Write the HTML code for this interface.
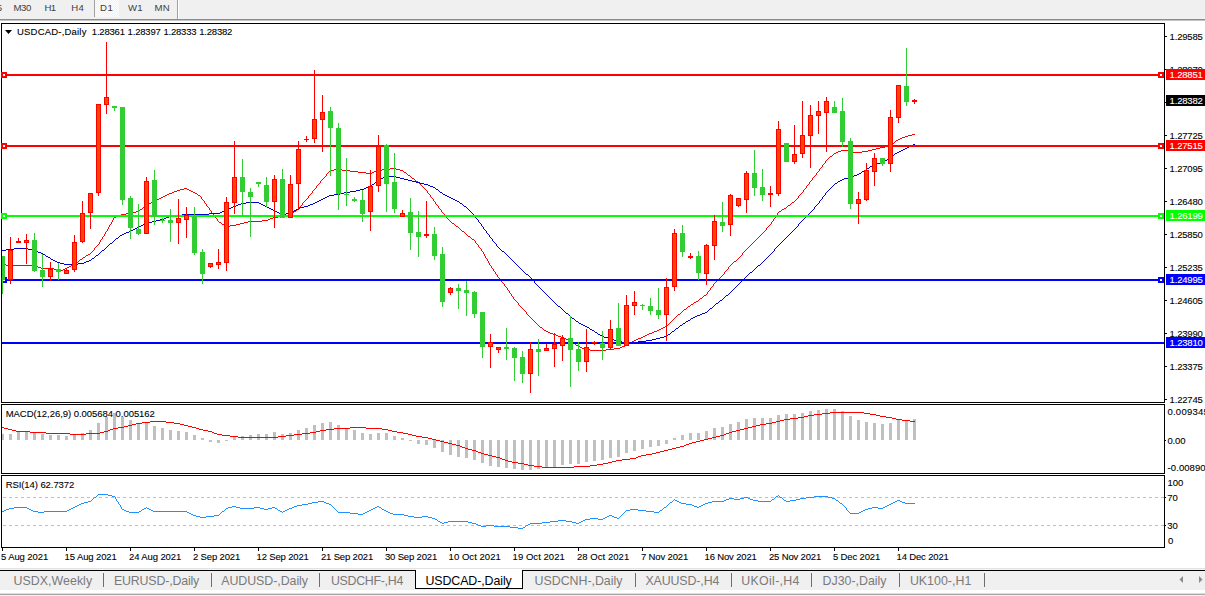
<!DOCTYPE html>
<html><head><meta charset="utf-8"><title>USDCAD-,Daily</title>
<style>html,body{margin:0;padding:0;background:#fff;}body{width:1205px;height:596px;position:relative;overflow:hidden;font-family:"Liberation Sans",sans-serif;}text{font-family:"Liberation Sans",sans-serif;}</style>
</head><body>
<svg width="1205" height="596" viewBox="0 0 1205 596" font-family="Liberation Sans, sans-serif" style="position:absolute;left:0;top:0;display:block"><rect x="0" y="0" width="1205" height="596" fill="#ffffff"/>
<rect x="0" y="0" width="1205" height="19" fill="#f0f0f0"/>
<rect x="0" y="19" width="1205" height="1" fill="#8c8c8c"/>
<rect x="0" y="20" width="1205" height="1" fill="#c4c4c4"/>
<defs><pattern id="hatch" width="2" height="2" patternUnits="userSpaceOnUse"><rect width="2" height="2" fill="#f0f0f0"/><rect width="1" height="1" fill="#ffffff"/><rect x="1" y="1" width="1" height="1" fill="#ffffff"/></pattern></defs>
<rect x="95" y="0" width="24" height="17" fill="url(#hatch)"/>
<rect x="94" y="0" width="1" height="17" fill="#a0a0a0"/>
<rect x="177" y="0" width="1" height="19" fill="#a0a0a0"/>
<rect x="178" y="0" width="1" height="19" fill="#ffffff"/>
<text x="-3.2" y="10.6" font-size="9.6" fill="#404040" stroke="#404040" stroke-width="0" text-anchor="start">5</text>
<text x="13.5" y="10.6" font-size="9.6" fill="#404040" stroke="#404040" stroke-width="0" textLength="17.8" lengthAdjust="spacing" text-anchor="start">M30</text>
<text x="44.4" y="10.6" font-size="9.6" fill="#404040" stroke="#404040" stroke-width="0" textLength="11.8" lengthAdjust="spacing" text-anchor="start">H1</text>
<text x="71.3" y="10.6" font-size="9.6" fill="#404040" stroke="#404040" stroke-width="0" textLength="12.6" lengthAdjust="spacing" text-anchor="start">H4</text>
<text x="100.0" y="10.6" font-size="9.6" fill="#404040" stroke="#404040" stroke-width="0" textLength="12.8" lengthAdjust="spacing" text-anchor="start">D1</text>
<text x="128.0" y="10.6" font-size="9.6" fill="#404040" stroke="#404040" stroke-width="0" textLength="14.6" lengthAdjust="spacing" text-anchor="start">W1</text>
<text x="154.4" y="10.6" font-size="9.6" fill="#404040" stroke="#404040" stroke-width="0" textLength="15.4" lengthAdjust="spacing" text-anchor="start">MN</text>
<rect x="1" y="23" width="1164" height="1" fill="#000"/>
<rect x="1" y="402" width="1164" height="1" fill="#000"/>
<rect x="1" y="23" width="1" height="380" fill="#000"/>
<rect x="1164" y="23" width="1" height="380" fill="#000"/>
<rect x="1" y="404" width="1164" height="1" fill="#000"/>
<rect x="1" y="473" width="1164" height="1" fill="#000"/>
<rect x="1" y="404" width="1" height="70" fill="#000"/>
<rect x="1164" y="404" width="1" height="70" fill="#000"/>
<rect x="1" y="475" width="1164" height="1" fill="#000"/>
<rect x="1" y="547" width="1164" height="1" fill="#000"/>
<rect x="1" y="475" width="1" height="73" fill="#000"/>
<rect x="1164" y="475" width="1" height="73" fill="#000"/>
<g shape-rendering="crispEdges">
</g>
<path d="M912 134.5h3M908 135.5h4M905 136.5h3M902 137.5h3M900 138.5h2M898 139.5h2M896 140.5h2M895 141.5h1M894 142.5h1M892 143.5h2M891 144.5h1M889 145.5h2M885 146.5h4M880 147.5h5M876 148.5h4M872 149.5h4M841 150.5h10M868 150.5h4M838 151.5h3M851 151.5h2M862 151.5h6M836 152.5h2M853 152.5h9M834 153.5h2M833 154.5h1M832 155.5h1M830 156.5h2M829 157.5h1M828 158.5h1M827 159.5h1M826 160.5h1M825 161.5h1M825 162.5h1M824 163.5h1M823 164.5h1M822 165.5h1M822 166.5h1M821 167.5h1M390 168.5h6M820 168.5h1M334 169.5h8M382 169.5h8M396 169.5h4M819 169.5h1M330 170.5h4M342 170.5h8M377 170.5h5M400 170.5h3M819 170.5h1M329 171.5h1M350 171.5h8M374 171.5h3M403 171.5h1M818 171.5h1M328 172.5h1M358 172.5h8M372 172.5h2M404 172.5h2M817 172.5h1M327 173.5h1M366 173.5h6M406 173.5h1M816 173.5h1M326 174.5h1M407 174.5h1M816 174.5h1M326 175.5h1M408 175.5h2M815 175.5h1M325 176.5h1M410 176.5h1M814 176.5h1M324 177.5h1M411 177.5h1M813 177.5h1M323 178.5h1M412 178.5h2M812 178.5h1M322 179.5h1M414 179.5h1M812 179.5h1M321 180.5h1M415 180.5h1M811 180.5h1M320 181.5h1M416 181.5h2M810 181.5h1M320 182.5h1M418 182.5h1M809 182.5h1M319 183.5h1M419 183.5h1M809 183.5h1M318 184.5h1M420 184.5h1M808 184.5h1M317 185.5h1M421 185.5h1M807 185.5h1M316 186.5h1M422 186.5h1M806 186.5h1M316 187.5h1M423 187.5h1M806 187.5h1M184 188.5h3M315 188.5h1M424 188.5h1M805 188.5h1M180 189.5h4M187 189.5h2M314 189.5h1M425 189.5h1M804 189.5h1M177 190.5h3M189 190.5h2M313 190.5h1M426 190.5h1M803 190.5h1M174 191.5h3M191 191.5h2M312 191.5h1M427 191.5h1M803 191.5h1M172 192.5h2M193 192.5h2M312 192.5h1M427 192.5h1M802 192.5h1M169 193.5h3M195 193.5h2M311 193.5h1M428 193.5h1M801 193.5h1M167 194.5h2M197 194.5h1M310 194.5h1M429 194.5h1M800 194.5h1M165 195.5h2M198 195.5h2M309 195.5h1M430 195.5h1M799 195.5h1M163 196.5h2M200 196.5h1M308 196.5h1M430 196.5h1M798 196.5h1M161 197.5h2M201 197.5h1M308 197.5h1M431 197.5h1M798 197.5h1M159 198.5h2M201 198.5h1M307 198.5h1M432 198.5h1M797 198.5h1M157 199.5h2M202 199.5h1M306 199.5h1M433 199.5h1M796 199.5h1M155 200.5h2M203 200.5h1M305 200.5h1M433 200.5h1M795 200.5h1M153 201.5h2M204 201.5h1M304 201.5h1M434 201.5h1M794 201.5h1M151 202.5h2M204 202.5h1M303 202.5h1M435 202.5h1M792 202.5h2M149 203.5h2M205 203.5h1M302 203.5h1M435 203.5h1M791 203.5h1M147 204.5h2M206 204.5h1M302 204.5h1M436 204.5h1M790 204.5h1M146 205.5h1M206 205.5h1M301 205.5h1M437 205.5h1M788 205.5h2M144 206.5h2M207 206.5h1M300 206.5h1M438 206.5h1M787 206.5h1M143 207.5h1M208 207.5h1M299 207.5h1M438 207.5h1M786 207.5h1M142 208.5h1M209 208.5h1M298 208.5h1M439 208.5h1M784 208.5h2M140 209.5h2M209 209.5h1M297 209.5h1M440 209.5h1M782 209.5h2M139 210.5h1M210 210.5h1M296 210.5h1M441 210.5h1M781 210.5h1M136 211.5h3M211 211.5h1M294 211.5h2M441 211.5h1M779 211.5h2M132 212.5h4M211 212.5h1M293 212.5h1M442 212.5h1M778 212.5h1M126 213.5h6M212 213.5h1M292 213.5h1M443 213.5h1M777 213.5h1M121 214.5h5M213 214.5h1M291 214.5h1M444 214.5h1M777 214.5h1M118 215.5h3M214 215.5h1M286 215.5h5M445 215.5h1M776 215.5h1M116 216.5h2M214 216.5h1M278 216.5h8M446 216.5h1M775 216.5h1M114 217.5h2M215 217.5h1M273 217.5h5M446 217.5h1M775 217.5h1M113 218.5h1M216 218.5h1M270 218.5h3M447 218.5h1M774 218.5h1M113 219.5h1M217 219.5h1M268 219.5h2M448 219.5h1M773 219.5h1M112 220.5h1M217 220.5h1M262 220.5h6M449 220.5h1M773 220.5h1M112 221.5h1M218 221.5h1M248 221.5h14M450 221.5h1M772 221.5h1M111 222.5h1M219 222.5h2M244 222.5h4M451 222.5h1M771 222.5h1M111 223.5h1M221 223.5h1M240 223.5h4M452 223.5h2M771 223.5h1M110 224.5h1M222 224.5h2M236 224.5h4M454 224.5h1M770 224.5h1M109 225.5h1M224 225.5h2M230 225.5h6M455 225.5h1M769 225.5h1M109 226.5h1M226 226.5h4M456 226.5h2M768 226.5h1M108 227.5h1M458 227.5h1M767 227.5h1M108 228.5h1M459 228.5h1M766 228.5h1M107 229.5h1M460 229.5h1M766 229.5h1M107 230.5h1M461 230.5h1M765 230.5h1M106 231.5h1M462 231.5h2M764 231.5h1M105 232.5h1M464 232.5h1M763 232.5h1M105 233.5h1M465 233.5h1M762 233.5h1M104 234.5h1M466 234.5h1M761 234.5h1M104 235.5h1M467 235.5h1M760 235.5h1M103 236.5h1M468 236.5h2M759 236.5h1M102 237.5h1M470 237.5h1M758 237.5h1M102 238.5h1M471 238.5h1M757 238.5h1M101 239.5h1M472 239.5h2M756 239.5h1M100 240.5h1M474 240.5h1M755 240.5h1M100 241.5h1M475 241.5h1M754 241.5h1M99 242.5h1M475 242.5h1M753 242.5h1M99 243.5h1M476 243.5h1M752 243.5h1M98 244.5h1M477 244.5h1M751 244.5h1M97 245.5h1M478 245.5h1M750 245.5h1M96 246.5h1M478 246.5h1M749 246.5h1M95 247.5h1M479 247.5h1M748 247.5h1M94 248.5h1M480 248.5h1M747 248.5h1M94 249.5h1M481 249.5h1M746 249.5h1M93 250.5h1M481 250.5h1M745 250.5h1M92 251.5h1M482 251.5h1M744 251.5h1M91 252.5h1M483 252.5h1M743 252.5h1M90 253.5h1M483 253.5h1M742 253.5h1M88 254.5h2M484 254.5h1M742 254.5h1M86 255.5h2M484 255.5h1M741 255.5h1M85 256.5h1M485 256.5h1M740 256.5h1M83 257.5h2M485 257.5h1M739 257.5h1M82 258.5h1M486 258.5h1M738 258.5h1M80 259.5h2M487 259.5h1M737 259.5h1M79 260.5h1M487 260.5h1M736 260.5h1M78 261.5h1M488 261.5h1M734 261.5h2M76 262.5h2M488 262.5h1M733 262.5h1M75 263.5h1M489 263.5h1M732 263.5h1M2 264.5h4M73 264.5h2M489 264.5h1M731 264.5h1M6 265.5h30M71 265.5h2M490 265.5h1M730 265.5h1M36 266.5h2M69 266.5h2M491 266.5h1M729 266.5h1M38 267.5h3M67 267.5h2M491 267.5h1M728 267.5h1M41 268.5h13M65 268.5h2M492 268.5h1M728 268.5h1M54 269.5h6M63 269.5h2M493 269.5h1M727 269.5h1M60 270.5h3M493 270.5h1M726 270.5h1M494 271.5h1M725 271.5h1M495 272.5h1M724 272.5h1M495 273.5h1M724 273.5h1M496 274.5h1M723 274.5h1M497 275.5h1M722 275.5h1M497 276.5h1M721 276.5h1M498 277.5h1M720 277.5h1M499 278.5h1M719 278.5h1M500 279.5h1M718 279.5h1M500 280.5h1M717 280.5h1M501 281.5h1M716 281.5h1M502 282.5h1M715 282.5h1M503 283.5h1M714 283.5h1M504 284.5h1M713 284.5h1M504 285.5h1M713 285.5h1M505 286.5h1M712 286.5h1M506 287.5h1M711 287.5h1M507 288.5h1M710 288.5h1M507 289.5h1M710 289.5h1M508 290.5h1M709 290.5h1M509 291.5h1M708 291.5h1M509 292.5h1M707 292.5h1M510 293.5h1M707 293.5h1M511 294.5h1M706 294.5h1M511 295.5h1M704 295.5h2M512 296.5h1M703 296.5h1M513 297.5h1M702 297.5h1M513 298.5h1M700 298.5h2M514 299.5h1M699 299.5h1M515 300.5h1M698 300.5h1M516 301.5h1M696 301.5h2M517 302.5h1M694 302.5h2M518 303.5h1M693 303.5h1M518 304.5h1M691 304.5h2M519 305.5h1M690 305.5h1M520 306.5h1M688 306.5h2M521 307.5h1M687 307.5h1M522 308.5h1M686 308.5h1M523 309.5h1M684 309.5h2M524 310.5h1M683 310.5h1M525 311.5h1M682 311.5h1M526 312.5h1M681 312.5h1M526 313.5h1M680 313.5h1M527 314.5h1M678 314.5h2M528 315.5h1M677 315.5h1M529 316.5h1M676 316.5h1M530 317.5h1M675 317.5h1M531 318.5h1M674 318.5h1M532 319.5h1M673 319.5h1M533 320.5h1M672 320.5h1M534 321.5h1M671 321.5h1M535 322.5h1M670 322.5h1M536 323.5h1M669 323.5h1M537 324.5h1M668 324.5h1M538 325.5h1M667 325.5h1M539 326.5h1M665 326.5h2M540 327.5h2M663 327.5h2M542 328.5h1M661 328.5h2M543 329.5h1M659 329.5h2M544 330.5h2M657 330.5h2M546 331.5h2M654 331.5h3M548 332.5h2M652 332.5h2M550 333.5h3M649 333.5h3M553 334.5h3M647 334.5h2M556 335.5h2M645 335.5h2M558 336.5h3M643 336.5h2M561 337.5h3M641 337.5h2M564 338.5h2M638 338.5h3M566 339.5h3M636 339.5h2M569 340.5h2M634 340.5h2M571 341.5h1M632 341.5h2M572 342.5h2M630 342.5h2M574 343.5h1M629 343.5h1M575 344.5h1M627 344.5h2M576 345.5h2M625 345.5h2M578 346.5h2M622 346.5h3M580 347.5h2M620 347.5h2M582 348.5h3M614 348.5h6M585 349.5h5M606 349.5h8M590 350.5h16" fill="none" stroke="#ff0000" stroke-width="1" shape-rendering="crispEdges"/>
<path d="M913 144.5h2M911 145.5h2M909 146.5h2M907 147.5h2M905 148.5h2M903 149.5h2M901 150.5h2M899 151.5h2M897 152.5h2M895 153.5h2M894 154.5h1M893 155.5h1M892 156.5h1M891 157.5h1M889 158.5h2M887 159.5h2M885 160.5h2M883 161.5h2M880 162.5h3M876 163.5h4M874 164.5h2M872 165.5h2M870 166.5h2M869 167.5h1M867 168.5h2M866 169.5h1M864 170.5h2M862 171.5h2M861 172.5h1M859 173.5h2M857 174.5h2M854 175.5h3M385 176.5h11M852 176.5h2M383 177.5h2M396 177.5h4M848 177.5h4M381 178.5h2M400 178.5h4M844 178.5h4M379 179.5h2M404 179.5h4M842 179.5h2M378 180.5h1M408 180.5h4M840 180.5h2M376 181.5h2M412 181.5h4M838 181.5h2M375 182.5h1M416 182.5h4M837 182.5h1M374 183.5h1M420 183.5h4M835 183.5h2M372 184.5h2M424 184.5h4M834 184.5h1M371 185.5h1M428 185.5h2M833 185.5h1M369 186.5h2M430 186.5h3M832 186.5h1M366 187.5h3M433 187.5h2M831 187.5h1M364 188.5h2M435 188.5h1M830 188.5h1M360 189.5h4M436 189.5h2M829 189.5h1M356 190.5h4M438 190.5h1M828 190.5h1M350 191.5h6M439 191.5h1M827 191.5h1M344 192.5h6M440 192.5h2M826 192.5h1M340 193.5h4M442 193.5h1M825 193.5h1M334 194.5h6M443 194.5h2M825 194.5h1M329 195.5h5M445 195.5h2M824 195.5h1M327 196.5h2M447 196.5h2M823 196.5h1M325 197.5h2M449 197.5h2M822 197.5h1M323 198.5h2M451 198.5h2M822 198.5h1M321 199.5h2M453 199.5h2M821 199.5h1M319 200.5h2M455 200.5h2M820 200.5h1M317 201.5h2M457 201.5h2M819 201.5h1M246 202.5h13M315 202.5h2M459 202.5h1M819 202.5h1M241 203.5h5M259 203.5h2M313 203.5h2M460 203.5h2M818 203.5h1M238 204.5h3M261 204.5h2M310 204.5h3M462 204.5h1M817 204.5h1M236 205.5h2M263 205.5h2M308 205.5h2M463 205.5h1M816 205.5h1M233 206.5h3M265 206.5h2M304 206.5h4M464 206.5h2M815 206.5h1M231 207.5h2M267 207.5h2M300 207.5h4M466 207.5h1M814 207.5h1M229 208.5h2M269 208.5h2M298 208.5h2M467 208.5h1M814 208.5h1M227 209.5h2M271 209.5h2M296 209.5h2M468 209.5h1M813 209.5h1M225 210.5h2M273 210.5h2M294 210.5h2M469 210.5h1M812 210.5h1M222 211.5h3M275 211.5h2M293 211.5h1M470 211.5h1M811 211.5h1M220 212.5h2M277 212.5h2M291 212.5h2M471 212.5h1M810 212.5h1M209 213.5h11M279 213.5h2M286 213.5h5M472 213.5h1M809 213.5h1M182 214.5h27M281 214.5h5M473 214.5h1M808 214.5h1M174 215.5h8M474 215.5h1M807 215.5h1M169 216.5h5M475 216.5h1M806 216.5h1M166 217.5h3M475 217.5h1M805 217.5h1M164 218.5h2M476 218.5h1M804 218.5h1M160 219.5h4M477 219.5h1M803 219.5h1M156 220.5h4M478 220.5h1M802 220.5h1M152 221.5h4M478 221.5h1M801 221.5h1M148 222.5h4M479 222.5h1M800 222.5h1M145 223.5h3M480 223.5h1M799 223.5h1M143 224.5h2M481 224.5h1M798 224.5h1M141 225.5h2M481 225.5h1M798 225.5h1M139 226.5h2M482 226.5h1M797 226.5h1M137 227.5h2M483 227.5h1M796 227.5h1M135 228.5h2M483 228.5h1M795 228.5h1M133 229.5h2M484 229.5h1M794 229.5h1M131 230.5h2M485 230.5h1M793 230.5h1M129 231.5h2M486 231.5h1M792 231.5h1M126 232.5h3M486 232.5h1M791 232.5h1M124 233.5h2M487 233.5h1M790 233.5h1M122 234.5h2M488 234.5h1M789 234.5h1M120 235.5h2M489 235.5h1M788 235.5h1M119 236.5h1M489 236.5h1M787 236.5h1M118 237.5h1M490 237.5h1M786 237.5h1M116 238.5h2M491 238.5h1M785 238.5h1M115 239.5h1M492 239.5h1M784 239.5h1M114 240.5h1M492 240.5h1M783 240.5h1M113 241.5h1M493 241.5h1M782 241.5h1M112 242.5h1M494 242.5h1M781 242.5h1M110 243.5h2M495 243.5h1M780 243.5h1M109 244.5h1M496 244.5h1M779 244.5h1M108 245.5h1M496 245.5h1M778 245.5h1M107 246.5h1M497 246.5h1M777 246.5h1M106 247.5h1M498 247.5h1M776 247.5h1M14 248.5h14M105 248.5h1M499 248.5h1M775 248.5h1M6 249.5h8M28 249.5h4M104 249.5h1M500 249.5h1M774 249.5h1M2 250.5h4M32 250.5h4M102 250.5h2M501 250.5h1M774 250.5h1M36 251.5h2M101 251.5h1M502 251.5h2M773 251.5h1M38 252.5h3M100 252.5h1M504 252.5h1M772 252.5h1M41 253.5h2M99 253.5h1M505 253.5h1M771 253.5h1M43 254.5h2M98 254.5h1M506 254.5h1M770 254.5h1M45 255.5h1M96 255.5h2M507 255.5h1M769 255.5h1M46 256.5h2M95 256.5h1M508 256.5h1M768 256.5h1M48 257.5h2M94 257.5h1M509 257.5h1M767 257.5h1M50 258.5h1M92 258.5h2M510 258.5h1M766 258.5h1M51 259.5h2M91 259.5h1M511 259.5h1M765 259.5h1M53 260.5h2M89 260.5h2M512 260.5h1M764 260.5h1M55 261.5h2M86 261.5h3M513 261.5h1M763 261.5h1M57 262.5h3M84 262.5h2M514 262.5h1M762 262.5h1M60 263.5h4M78 263.5h6M515 263.5h1M761 263.5h1M64 264.5h14M516 264.5h1M760 264.5h1M517 265.5h1M758 265.5h2M518 266.5h1M757 266.5h1M519 267.5h1M756 267.5h1M520 268.5h1M755 268.5h1M521 269.5h1M754 269.5h1M522 270.5h1M753 270.5h1M523 271.5h1M752 271.5h1M524 272.5h1M750 272.5h2M525 273.5h1M749 273.5h1M526 274.5h2M748 274.5h1M528 275.5h1M747 275.5h1M529 276.5h1M746 276.5h1M530 277.5h1M745 277.5h1M531 278.5h1M744 278.5h1M532 279.5h1M743 279.5h1M533 280.5h1M742 280.5h1M534 281.5h1M741 281.5h1M534 282.5h1M740 282.5h1M535 283.5h1M739 283.5h1M536 284.5h1M738 284.5h1M537 285.5h1M737 285.5h1M538 286.5h1M736 286.5h1M539 287.5h1M735 287.5h1M540 288.5h1M734 288.5h1M541 289.5h1M733 289.5h1M542 290.5h1M732 290.5h1M543 291.5h1M731 291.5h1M544 292.5h1M730 292.5h1M545 293.5h1M729 293.5h1M546 294.5h1M728 294.5h1M547 295.5h1M726 295.5h2M548 296.5h1M725 296.5h1M549 297.5h1M724 297.5h1M550 298.5h1M723 298.5h1M551 299.5h1M722 299.5h1M552 300.5h1M720 300.5h2M553 301.5h1M719 301.5h1M554 302.5h1M718 302.5h1M555 303.5h1M716 303.5h2M556 304.5h1M715 304.5h1M557 305.5h1M714 305.5h1M558 306.5h2M713 306.5h1M560 307.5h1M712 307.5h1M561 308.5h1M710 308.5h2M562 309.5h1M709 309.5h1M563 310.5h1M708 310.5h1M564 311.5h1M707 311.5h1M565 312.5h1M705 312.5h2M566 313.5h2M702 313.5h3M568 314.5h1M700 314.5h2M569 315.5h1M697 315.5h3M570 316.5h1M695 316.5h2M571 317.5h1M693 317.5h2M572 318.5h2M691 318.5h2M574 319.5h1M690 319.5h1M575 320.5h1M688 320.5h2M576 321.5h2M686 321.5h2M578 322.5h1M685 322.5h1M579 323.5h2M683 323.5h2M581 324.5h2M682 324.5h1M583 325.5h2M680 325.5h2M585 326.5h2M679 326.5h1M587 327.5h2M678 327.5h1M589 328.5h1M676 328.5h2M590 329.5h2M675 329.5h1M592 330.5h2M674 330.5h1M594 331.5h1M672 331.5h2M595 332.5h2M671 332.5h1M597 333.5h1M670 333.5h1M598 334.5h2M668 334.5h2M600 335.5h2M667 335.5h1M602 336.5h2M664 336.5h3M604 337.5h4M660 337.5h4M608 338.5h4M656 338.5h4M612 339.5h2M652 339.5h4M614 340.5h3M646 340.5h6M617 341.5h5M638 341.5h8M622 342.5h16" fill="none" stroke="#0000cd" stroke-width="1" shape-rendering="crispEdges"/>
<g shape-rendering="crispEdges">
<rect x="2" y="74" width="1162" height="2" fill="#ff0000"/>
<rect x="1" y="72" width="6" height="6" fill="#ff0000"/>
<rect x="3" y="74" width="2" height="2" fill="#fff"/>
<rect x="1158" y="72" width="6" height="6" fill="#ff0000"/>
<rect x="1160" y="74" width="2" height="2" fill="#fff"/>
<rect x="2" y="145" width="1162" height="2" fill="#ff0000"/>
<rect x="1" y="143" width="6" height="6" fill="#ff0000"/>
<rect x="3" y="145" width="2" height="2" fill="#fff"/>
<rect x="1158" y="143" width="6" height="6" fill="#ff0000"/>
<rect x="1160" y="145" width="2" height="2" fill="#fff"/>
<rect x="2" y="215" width="1162" height="2" fill="#00ff00"/>
<rect x="1" y="213" width="6" height="6" fill="#00ff00"/>
<rect x="3" y="215" width="2" height="2" fill="#fff"/>
<rect x="1158" y="213" width="6" height="6" fill="#00ff00"/>
<rect x="1160" y="215" width="2" height="2" fill="#fff"/>
<rect x="2" y="279" width="1162" height="2" fill="#0000ff"/>
<rect x="1" y="277" width="6" height="6" fill="#0000ff"/>
<rect x="3" y="279" width="2" height="2" fill="#fff"/>
<rect x="1158" y="277" width="6" height="6" fill="#0000ff"/>
<rect x="1160" y="279" width="2" height="2" fill="#fff"/>
<rect x="2" y="342" width="1162" height="2" fill="#0000ff"/>
<rect x="2" y="256" width="1" height="38" fill="#32cd32"/>
<rect x="2" y="256" width="3" height="24" fill="#32cd32"/>
<rect x="10" y="237" width="1" height="47" fill="#ff0000"/>
<rect x="8" y="250" width="5" height="30" fill="#ff0000"/>
<rect x="9" y="251" width="3" height="28" fill="#ff4500"/>
<rect x="18" y="238" width="1" height="5" fill="#ff0000"/>
<rect x="16" y="241" width="5" height="2" fill="#ff0000"/>
<rect x="26" y="234" width="1" height="30" fill="#ff0000"/>
<rect x="24" y="240" width="5" height="3" fill="#ff0000"/>
<rect x="25" y="241" width="3" height="1" fill="#ff4500"/>
<rect x="34" y="233" width="1" height="39" fill="#32cd32"/>
<rect x="32" y="240" width="5" height="31" fill="#32cd32"/>
<rect x="42" y="254" width="1" height="33" fill="#32cd32"/>
<rect x="40" y="270" width="5" height="7" fill="#32cd32"/>
<rect x="50" y="262" width="1" height="19" fill="#ff0000"/>
<rect x="48" y="269" width="5" height="8" fill="#ff0000"/>
<rect x="49" y="270" width="3" height="6" fill="#ff4500"/>
<rect x="58" y="263" width="1" height="17" fill="#32cd32"/>
<rect x="56" y="269" width="5" height="3" fill="#32cd32"/>
<rect x="66" y="268" width="1" height="6" fill="#ff0000"/>
<rect x="64" y="270" width="5" height="4" fill="#ff0000"/>
<rect x="65" y="271" width="3" height="2" fill="#ff4500"/>
<rect x="74" y="235" width="1" height="37" fill="#ff0000"/>
<rect x="72" y="242" width="5" height="28" fill="#ff0000"/>
<rect x="73" y="243" width="3" height="26" fill="#ff4500"/>
<rect x="82" y="201" width="1" height="42" fill="#ff0000"/>
<rect x="80" y="213" width="5" height="29" fill="#ff0000"/>
<rect x="81" y="214" width="3" height="27" fill="#ff4500"/>
<rect x="90" y="193" width="1" height="36" fill="#ff0000"/>
<rect x="88" y="193" width="5" height="20" fill="#ff0000"/>
<rect x="89" y="194" width="3" height="18" fill="#ff4500"/>
<rect x="98" y="104" width="1" height="92" fill="#ff0000"/>
<rect x="96" y="104" width="5" height="89" fill="#ff0000"/>
<rect x="97" y="105" width="3" height="87" fill="#ff4500"/>
<rect x="106" y="42" width="1" height="72" fill="#ff0000"/>
<rect x="104" y="97" width="5" height="8" fill="#ff0000"/>
<rect x="105" y="98" width="3" height="6" fill="#ff4500"/>
<rect x="114" y="106" width="1" height="5" fill="#32cd32"/>
<rect x="112" y="106" width="5" height="2" fill="#32cd32"/>
<rect x="122" y="107" width="1" height="98" fill="#32cd32"/>
<rect x="120" y="107" width="5" height="93" fill="#32cd32"/>
<rect x="130" y="196" width="1" height="43" fill="#32cd32"/>
<rect x="128" y="198" width="5" height="30" fill="#32cd32"/>
<rect x="138" y="204" width="1" height="31" fill="#32cd32"/>
<rect x="136" y="229" width="5" height="5" fill="#32cd32"/>
<rect x="146" y="177" width="1" height="57" fill="#ff0000"/>
<rect x="144" y="181" width="5" height="53" fill="#ff0000"/>
<rect x="145" y="182" width="3" height="51" fill="#ff4500"/>
<rect x="154" y="170" width="1" height="55" fill="#32cd32"/>
<rect x="152" y="180" width="5" height="37" fill="#32cd32"/>
<rect x="162" y="218" width="1" height="5" fill="#32cd32"/>
<rect x="160" y="220" width="5" height="1" fill="#32cd32"/>
<rect x="170" y="209" width="1" height="33" fill="#32cd32"/>
<rect x="168" y="220" width="5" height="3" fill="#32cd32"/>
<rect x="178" y="199" width="1" height="45" fill="#ff0000"/>
<rect x="176" y="218" width="5" height="5" fill="#ff0000"/>
<rect x="177" y="219" width="3" height="3" fill="#ff4500"/>
<rect x="186" y="207" width="1" height="31" fill="#ff0000"/>
<rect x="184" y="215" width="5" height="5" fill="#ff0000"/>
<rect x="185" y="216" width="3" height="3" fill="#ff4500"/>
<rect x="194" y="207" width="1" height="48" fill="#32cd32"/>
<rect x="192" y="216" width="5" height="37" fill="#32cd32"/>
<rect x="202" y="249" width="1" height="35" fill="#32cd32"/>
<rect x="200" y="252" width="5" height="22" fill="#32cd32"/>
<rect x="210" y="263" width="1" height="5" fill="#ff0000"/>
<rect x="208" y="263" width="5" height="4" fill="#ff0000"/>
<rect x="209" y="264" width="3" height="2" fill="#ff4500"/>
<rect x="218" y="249" width="1" height="20" fill="#ff0000"/>
<rect x="216" y="262" width="5" height="3" fill="#ff0000"/>
<rect x="217" y="263" width="3" height="1" fill="#ff4500"/>
<rect x="226" y="197" width="1" height="74" fill="#ff0000"/>
<rect x="224" y="202" width="5" height="61" fill="#ff0000"/>
<rect x="225" y="203" width="3" height="59" fill="#ff4500"/>
<rect x="234" y="141" width="1" height="73" fill="#ff0000"/>
<rect x="232" y="177" width="5" height="26" fill="#ff0000"/>
<rect x="233" y="178" width="3" height="24" fill="#ff4500"/>
<rect x="242" y="159" width="1" height="57" fill="#32cd32"/>
<rect x="240" y="177" width="5" height="15" fill="#32cd32"/>
<rect x="250" y="188" width="1" height="49" fill="#32cd32"/>
<rect x="248" y="192" width="5" height="5" fill="#32cd32"/>
<rect x="258" y="182" width="1" height="5" fill="#32cd32"/>
<rect x="256" y="182" width="5" height="2" fill="#32cd32"/>
<rect x="266" y="177" width="1" height="30" fill="#32cd32"/>
<rect x="264" y="185" width="5" height="17" fill="#32cd32"/>
<rect x="274" y="175" width="1" height="53" fill="#ff0000"/>
<rect x="272" y="179" width="5" height="23" fill="#ff0000"/>
<rect x="273" y="180" width="3" height="21" fill="#ff4500"/>
<rect x="282" y="169" width="1" height="49" fill="#32cd32"/>
<rect x="280" y="179" width="5" height="39" fill="#32cd32"/>
<rect x="290" y="175" width="1" height="43" fill="#ff0000"/>
<rect x="288" y="184" width="5" height="34" fill="#ff0000"/>
<rect x="289" y="185" width="3" height="32" fill="#ff4500"/>
<rect x="298" y="141" width="1" height="69" fill="#ff0000"/>
<rect x="296" y="149" width="5" height="35" fill="#ff0000"/>
<rect x="297" y="150" width="3" height="33" fill="#ff4500"/>
<rect x="306" y="136" width="1" height="6" fill="#ff0000"/>
<rect x="304" y="139" width="5" height="1" fill="#ff0000"/>
<rect x="314" y="70" width="1" height="73" fill="#ff0000"/>
<rect x="312" y="119" width="5" height="20" fill="#ff0000"/>
<rect x="313" y="120" width="3" height="18" fill="#ff4500"/>
<rect x="322" y="95" width="1" height="57" fill="#ff0000"/>
<rect x="320" y="112" width="5" height="8" fill="#ff0000"/>
<rect x="321" y="113" width="3" height="6" fill="#ff4500"/>
<rect x="330" y="107" width="1" height="69" fill="#32cd32"/>
<rect x="328" y="111" width="5" height="17" fill="#32cd32"/>
<rect x="338" y="123" width="1" height="87" fill="#32cd32"/>
<rect x="336" y="128" width="5" height="66" fill="#32cd32"/>
<rect x="346" y="158" width="1" height="48" fill="#32cd32"/>
<rect x="344" y="194" width="5" height="1" fill="#32cd32"/>
<rect x="354" y="197" width="1" height="5" fill="#32cd32"/>
<rect x="352" y="199" width="5" height="2" fill="#32cd32"/>
<rect x="362" y="190" width="1" height="32" fill="#32cd32"/>
<rect x="360" y="200" width="5" height="14" fill="#32cd32"/>
<rect x="370" y="170" width="1" height="61" fill="#ff0000"/>
<rect x="368" y="186" width="5" height="26" fill="#ff0000"/>
<rect x="369" y="187" width="3" height="24" fill="#ff4500"/>
<rect x="378" y="135" width="1" height="57" fill="#ff0000"/>
<rect x="376" y="146" width="5" height="40" fill="#ff0000"/>
<rect x="377" y="147" width="3" height="38" fill="#ff4500"/>
<rect x="386" y="144" width="1" height="68" fill="#32cd32"/>
<rect x="384" y="145" width="5" height="39" fill="#32cd32"/>
<rect x="394" y="153" width="1" height="60" fill="#32cd32"/>
<rect x="392" y="182" width="5" height="27" fill="#32cd32"/>
<rect x="402" y="210" width="1" height="7" fill="#ff0000"/>
<rect x="400" y="213" width="5" height="4" fill="#ff0000"/>
<rect x="401" y="214" width="3" height="2" fill="#ff4500"/>
<rect x="410" y="198" width="1" height="52" fill="#32cd32"/>
<rect x="408" y="212" width="5" height="21" fill="#32cd32"/>
<rect x="418" y="211" width="1" height="46" fill="#32cd32"/>
<rect x="416" y="232" width="5" height="5" fill="#32cd32"/>
<rect x="426" y="201" width="1" height="37" fill="#ff0000"/>
<rect x="424" y="234" width="5" height="2" fill="#ff0000"/>
<rect x="434" y="227" width="1" height="33" fill="#32cd32"/>
<rect x="432" y="234" width="5" height="22" fill="#32cd32"/>
<rect x="442" y="247" width="1" height="60" fill="#32cd32"/>
<rect x="440" y="254" width="5" height="48" fill="#32cd32"/>
<rect x="450" y="287" width="1" height="8" fill="#ff0000"/>
<rect x="448" y="288" width="5" height="5" fill="#ff0000"/>
<rect x="449" y="289" width="3" height="3" fill="#ff4500"/>
<rect x="458" y="284" width="1" height="25" fill="#32cd32"/>
<rect x="456" y="288" width="5" height="3" fill="#32cd32"/>
<rect x="466" y="281" width="1" height="35" fill="#32cd32"/>
<rect x="464" y="290" width="5" height="3" fill="#32cd32"/>
<rect x="474" y="291" width="1" height="27" fill="#32cd32"/>
<rect x="472" y="292" width="5" height="22" fill="#32cd32"/>
<rect x="482" y="312" width="1" height="46" fill="#32cd32"/>
<rect x="480" y="312" width="5" height="35" fill="#32cd32"/>
<rect x="490" y="334" width="1" height="34" fill="#ff0000"/>
<rect x="488" y="342" width="5" height="5" fill="#ff0000"/>
<rect x="489" y="343" width="3" height="3" fill="#ff4500"/>
<rect x="498" y="347" width="1" height="6" fill="#ff0000"/>
<rect x="496" y="347" width="5" height="3" fill="#ff0000"/>
<rect x="497" y="348" width="3" height="1" fill="#ff4500"/>
<rect x="506" y="328" width="1" height="32" fill="#32cd32"/>
<rect x="504" y="347" width="5" height="2" fill="#32cd32"/>
<rect x="514" y="347" width="1" height="34" fill="#32cd32"/>
<rect x="512" y="348" width="5" height="10" fill="#32cd32"/>
<rect x="522" y="351" width="1" height="32" fill="#32cd32"/>
<rect x="520" y="357" width="5" height="17" fill="#32cd32"/>
<rect x="530" y="342" width="1" height="51" fill="#ff0000"/>
<rect x="528" y="349" width="5" height="25" fill="#ff0000"/>
<rect x="529" y="350" width="3" height="23" fill="#ff4500"/>
<rect x="538" y="339" width="1" height="37" fill="#32cd32"/>
<rect x="536" y="349" width="5" height="3" fill="#32cd32"/>
<rect x="546" y="344" width="1" height="7" fill="#ff0000"/>
<rect x="544" y="348" width="5" height="3" fill="#ff0000"/>
<rect x="545" y="349" width="3" height="1" fill="#ff4500"/>
<rect x="554" y="333" width="1" height="34" fill="#ff0000"/>
<rect x="552" y="344" width="5" height="5" fill="#ff0000"/>
<rect x="553" y="345" width="3" height="3" fill="#ff4500"/>
<rect x="562" y="335" width="1" height="26" fill="#ff0000"/>
<rect x="560" y="338" width="5" height="8" fill="#ff0000"/>
<rect x="561" y="339" width="3" height="6" fill="#ff4500"/>
<rect x="570" y="316" width="1" height="71" fill="#32cd32"/>
<rect x="568" y="338" width="5" height="12" fill="#32cd32"/>
<rect x="578" y="342" width="1" height="29" fill="#32cd32"/>
<rect x="576" y="349" width="5" height="13" fill="#32cd32"/>
<rect x="586" y="329" width="1" height="43" fill="#ff0000"/>
<rect x="584" y="347" width="5" height="15" fill="#ff0000"/>
<rect x="585" y="348" width="3" height="13" fill="#ff4500"/>
<rect x="594" y="341" width="1" height="4" fill="#ff0000"/>
<rect x="592" y="342" width="5" height="1" fill="#ff0000"/>
<rect x="602" y="331" width="1" height="29" fill="#32cd32"/>
<rect x="600" y="343" width="5" height="5" fill="#32cd32"/>
<rect x="610" y="320" width="1" height="29" fill="#ff0000"/>
<rect x="608" y="329" width="5" height="19" fill="#ff0000"/>
<rect x="609" y="330" width="3" height="17" fill="#ff4500"/>
<rect x="618" y="303" width="1" height="43" fill="#32cd32"/>
<rect x="616" y="328" width="5" height="18" fill="#32cd32"/>
<rect x="626" y="295" width="1" height="51" fill="#ff0000"/>
<rect x="624" y="305" width="5" height="41" fill="#ff0000"/>
<rect x="625" y="306" width="3" height="39" fill="#ff4500"/>
<rect x="634" y="291" width="1" height="24" fill="#ff0000"/>
<rect x="632" y="302" width="5" height="4" fill="#ff0000"/>
<rect x="633" y="303" width="3" height="2" fill="#ff4500"/>
<rect x="642" y="304" width="1" height="6" fill="#32cd32"/>
<rect x="640" y="305" width="5" height="1" fill="#32cd32"/>
<rect x="650" y="298" width="1" height="17" fill="#32cd32"/>
<rect x="648" y="306" width="5" height="5" fill="#32cd32"/>
<rect x="658" y="288" width="1" height="31" fill="#32cd32"/>
<rect x="656" y="310" width="5" height="5" fill="#32cd32"/>
<rect x="666" y="278" width="1" height="63" fill="#ff0000"/>
<rect x="664" y="287" width="5" height="28" fill="#ff0000"/>
<rect x="665" y="288" width="3" height="26" fill="#ff4500"/>
<rect x="674" y="229" width="1" height="62" fill="#ff0000"/>
<rect x="672" y="233" width="5" height="54" fill="#ff0000"/>
<rect x="673" y="234" width="3" height="52" fill="#ff4500"/>
<rect x="682" y="225" width="1" height="32" fill="#32cd32"/>
<rect x="680" y="233" width="5" height="19" fill="#32cd32"/>
<rect x="690" y="253" width="1" height="6" fill="#ff0000"/>
<rect x="688" y="256" width="5" height="2" fill="#ff0000"/>
<rect x="698" y="251" width="1" height="29" fill="#32cd32"/>
<rect x="696" y="256" width="5" height="17" fill="#32cd32"/>
<rect x="706" y="244" width="1" height="41" fill="#ff0000"/>
<rect x="704" y="245" width="5" height="29" fill="#ff0000"/>
<rect x="705" y="246" width="3" height="27" fill="#ff4500"/>
<rect x="714" y="215" width="1" height="45" fill="#ff0000"/>
<rect x="712" y="221" width="5" height="25" fill="#ff0000"/>
<rect x="713" y="222" width="3" height="23" fill="#ff4500"/>
<rect x="722" y="202" width="1" height="30" fill="#32cd32"/>
<rect x="720" y="222" width="5" height="4" fill="#32cd32"/>
<rect x="730" y="194" width="1" height="42" fill="#ff0000"/>
<rect x="728" y="195" width="5" height="30" fill="#ff0000"/>
<rect x="729" y="196" width="3" height="28" fill="#ff4500"/>
<rect x="738" y="198" width="1" height="9" fill="#ff0000"/>
<rect x="736" y="198" width="5" height="8" fill="#ff0000"/>
<rect x="737" y="199" width="3" height="6" fill="#ff4500"/>
<rect x="746" y="171" width="1" height="42" fill="#ff0000"/>
<rect x="744" y="173" width="5" height="27" fill="#ff0000"/>
<rect x="745" y="174" width="3" height="25" fill="#ff4500"/>
<rect x="754" y="150" width="1" height="46" fill="#32cd32"/>
<rect x="752" y="173" width="5" height="15" fill="#32cd32"/>
<rect x="762" y="169" width="1" height="32" fill="#32cd32"/>
<rect x="760" y="187" width="5" height="8" fill="#32cd32"/>
<rect x="770" y="186" width="1" height="21" fill="#ff0000"/>
<rect x="768" y="193" width="5" height="2" fill="#ff0000"/>
<rect x="778" y="121" width="1" height="75" fill="#ff0000"/>
<rect x="776" y="129" width="5" height="65" fill="#ff0000"/>
<rect x="777" y="130" width="3" height="63" fill="#ff4500"/>
<rect x="786" y="143" width="1" height="19" fill="#32cd32"/>
<rect x="784" y="143" width="5" height="19" fill="#32cd32"/>
<rect x="794" y="125" width="1" height="39" fill="#ff0000"/>
<rect x="792" y="154" width="5" height="8" fill="#ff0000"/>
<rect x="793" y="155" width="3" height="6" fill="#ff4500"/>
<rect x="802" y="101" width="1" height="57" fill="#ff0000"/>
<rect x="800" y="135" width="5" height="19" fill="#ff0000"/>
<rect x="801" y="136" width="3" height="17" fill="#ff4500"/>
<rect x="810" y="105" width="1" height="63" fill="#ff0000"/>
<rect x="808" y="115" width="5" height="21" fill="#ff0000"/>
<rect x="809" y="116" width="3" height="19" fill="#ff4500"/>
<rect x="818" y="101" width="1" height="33" fill="#ff0000"/>
<rect x="816" y="111" width="5" height="5" fill="#ff0000"/>
<rect x="817" y="112" width="3" height="3" fill="#ff4500"/>
<rect x="826" y="97" width="1" height="55" fill="#ff0000"/>
<rect x="824" y="101" width="5" height="12" fill="#ff0000"/>
<rect x="825" y="102" width="3" height="10" fill="#ff4500"/>
<rect x="834" y="101" width="1" height="12" fill="#32cd32"/>
<rect x="832" y="107" width="5" height="6" fill="#32cd32"/>
<rect x="842" y="98" width="1" height="49" fill="#32cd32"/>
<rect x="840" y="111" width="5" height="31" fill="#32cd32"/>
<rect x="850" y="138" width="1" height="71" fill="#32cd32"/>
<rect x="848" y="141" width="5" height="63" fill="#32cd32"/>
<rect x="858" y="192" width="1" height="32" fill="#ff0000"/>
<rect x="856" y="199" width="5" height="5" fill="#ff0000"/>
<rect x="857" y="200" width="3" height="3" fill="#ff4500"/>
<rect x="866" y="163" width="1" height="38" fill="#ff0000"/>
<rect x="864" y="170" width="5" height="30" fill="#ff0000"/>
<rect x="865" y="171" width="3" height="28" fill="#ff4500"/>
<rect x="874" y="153" width="1" height="33" fill="#ff0000"/>
<rect x="872" y="158" width="5" height="14" fill="#ff0000"/>
<rect x="873" y="159" width="3" height="12" fill="#ff4500"/>
<rect x="882" y="158" width="1" height="8" fill="#32cd32"/>
<rect x="880" y="158" width="5" height="6" fill="#32cd32"/>
<rect x="890" y="110" width="1" height="62" fill="#ff0000"/>
<rect x="888" y="117" width="5" height="47" fill="#ff0000"/>
<rect x="889" y="118" width="3" height="45" fill="#ff4500"/>
<rect x="898" y="85" width="1" height="38" fill="#ff0000"/>
<rect x="896" y="85" width="5" height="33" fill="#ff0000"/>
<rect x="897" y="86" width="3" height="31" fill="#ff4500"/>
<rect x="906" y="48" width="1" height="58" fill="#32cd32"/>
<rect x="904" y="86" width="5" height="16" fill="#32cd32"/>
<rect x="914" y="99" width="1" height="5" fill="#ff0000"/>
<rect x="912" y="100" width="5" height="2" fill="#ff0000"/>
<rect x="1" y="434" width="3" height="6" fill="#c0c0c0"/>
<rect x="9" y="434" width="3" height="6" fill="#c0c0c0"/>
<rect x="17" y="432" width="3" height="8" fill="#c0c0c0"/>
<rect x="25" y="432" width="3" height="8" fill="#c0c0c0"/>
<rect x="33" y="433" width="3" height="7" fill="#c0c0c0"/>
<rect x="41" y="434" width="3" height="6" fill="#c0c0c0"/>
<rect x="49" y="435" width="3" height="5" fill="#c0c0c0"/>
<rect x="57" y="435" width="3" height="5" fill="#c0c0c0"/>
<rect x="65" y="436" width="3" height="4" fill="#c0c0c0"/>
<rect x="73" y="435" width="3" height="5" fill="#c0c0c0"/>
<rect x="81" y="433" width="3" height="7" fill="#c0c0c0"/>
<rect x="89" y="430" width="3" height="10" fill="#c0c0c0"/>
<rect x="97" y="423" width="3" height="17" fill="#c0c0c0"/>
<rect x="105" y="417" width="3" height="23" fill="#c0c0c0"/>
<rect x="113" y="413" width="3" height="27" fill="#c0c0c0"/>
<rect x="121" y="417" width="3" height="23" fill="#c0c0c0"/>
<rect x="129" y="420" width="3" height="20" fill="#c0c0c0"/>
<rect x="137" y="423" width="3" height="17" fill="#c0c0c0"/>
<rect x="145" y="423" width="3" height="17" fill="#c0c0c0"/>
<rect x="153" y="426" width="3" height="14" fill="#c0c0c0"/>
<rect x="161" y="428" width="3" height="12" fill="#c0c0c0"/>
<rect x="169" y="430" width="3" height="10" fill="#c0c0c0"/>
<rect x="177" y="431" width="3" height="9" fill="#c0c0c0"/>
<rect x="185" y="432" width="3" height="8" fill="#c0c0c0"/>
<rect x="193" y="435" width="3" height="5" fill="#c0c0c0"/>
<rect x="201" y="438" width="3" height="2" fill="#c0c0c0"/>
<rect x="209" y="440" width="3" height="2" fill="#c0c0c0"/>
<rect x="217" y="440" width="3" height="3" fill="#c0c0c0"/>
<rect x="225" y="440" width="3" height="1" fill="#c0c0c0"/>
<rect x="233" y="436" width="3" height="4" fill="#c0c0c0"/>
<rect x="241" y="436" width="3" height="4" fill="#c0c0c0"/>
<rect x="249" y="435" width="3" height="5" fill="#c0c0c0"/>
<rect x="257" y="434" width="3" height="6" fill="#c0c0c0"/>
<rect x="265" y="434" width="3" height="6" fill="#c0c0c0"/>
<rect x="273" y="432" width="3" height="8" fill="#c0c0c0"/>
<rect x="281" y="434" width="3" height="6" fill="#c0c0c0"/>
<rect x="289" y="433" width="3" height="7" fill="#c0c0c0"/>
<rect x="297" y="430" width="3" height="10" fill="#c0c0c0"/>
<rect x="305" y="428" width="3" height="12" fill="#c0c0c0"/>
<rect x="313" y="425" width="3" height="15" fill="#c0c0c0"/>
<rect x="321" y="423" width="3" height="17" fill="#c0c0c0"/>
<rect x="329" y="422" width="3" height="18" fill="#c0c0c0"/>
<rect x="337" y="425" width="3" height="15" fill="#c0c0c0"/>
<rect x="345" y="429" width="3" height="11" fill="#c0c0c0"/>
<rect x="353" y="430" width="3" height="10" fill="#c0c0c0"/>
<rect x="361" y="433" width="3" height="7" fill="#c0c0c0"/>
<rect x="369" y="434" width="3" height="6" fill="#c0c0c0"/>
<rect x="377" y="433" width="3" height="7" fill="#c0c0c0"/>
<rect x="385" y="433" width="3" height="7" fill="#c0c0c0"/>
<rect x="393" y="436" width="3" height="4" fill="#c0c0c0"/>
<rect x="401" y="438" width="3" height="2" fill="#c0c0c0"/>
<rect x="409" y="440" width="3" height="1" fill="#c0c0c0"/>
<rect x="417" y="440" width="3" height="4" fill="#c0c0c0"/>
<rect x="425" y="440" width="3" height="5" fill="#c0c0c0"/>
<rect x="433" y="440" width="3" height="8" fill="#c0c0c0"/>
<rect x="441" y="440" width="3" height="12" fill="#c0c0c0"/>
<rect x="449" y="440" width="3" height="15" fill="#c0c0c0"/>
<rect x="457" y="440" width="3" height="17" fill="#c0c0c0"/>
<rect x="465" y="440" width="3" height="18" fill="#c0c0c0"/>
<rect x="473" y="440" width="3" height="20" fill="#c0c0c0"/>
<rect x="481" y="440" width="3" height="23" fill="#c0c0c0"/>
<rect x="489" y="440" width="3" height="26" fill="#c0c0c0"/>
<rect x="497" y="440" width="3" height="27" fill="#c0c0c0"/>
<rect x="505" y="440" width="3" height="28" fill="#c0c0c0"/>
<rect x="513" y="440" width="3" height="29" fill="#c0c0c0"/>
<rect x="521" y="440" width="3" height="30" fill="#c0c0c0"/>
<rect x="529" y="440" width="3" height="30" fill="#c0c0c0"/>
<rect x="537" y="440" width="3" height="29" fill="#c0c0c0"/>
<rect x="545" y="440" width="3" height="28" fill="#c0c0c0"/>
<rect x="553" y="440" width="3" height="27" fill="#c0c0c0"/>
<rect x="561" y="440" width="3" height="25" fill="#c0c0c0"/>
<rect x="569" y="440" width="3" height="24" fill="#c0c0c0"/>
<rect x="577" y="440" width="3" height="24" fill="#c0c0c0"/>
<rect x="585" y="440" width="3" height="22" fill="#c0c0c0"/>
<rect x="593" y="440" width="3" height="21" fill="#c0c0c0"/>
<rect x="601" y="440" width="3" height="20" fill="#c0c0c0"/>
<rect x="609" y="440" width="3" height="18" fill="#c0c0c0"/>
<rect x="617" y="440" width="3" height="17" fill="#c0c0c0"/>
<rect x="625" y="440" width="3" height="13" fill="#c0c0c0"/>
<rect x="633" y="440" width="3" height="11" fill="#c0c0c0"/>
<rect x="641" y="440" width="3" height="9" fill="#c0c0c0"/>
<rect x="649" y="440" width="3" height="7" fill="#c0c0c0"/>
<rect x="657" y="440" width="3" height="6" fill="#c0c0c0"/>
<rect x="665" y="440" width="3" height="4" fill="#c0c0c0"/>
<rect x="673" y="438" width="3" height="2" fill="#c0c0c0"/>
<rect x="681" y="435" width="3" height="5" fill="#c0c0c0"/>
<rect x="689" y="433" width="3" height="7" fill="#c0c0c0"/>
<rect x="697" y="433" width="3" height="7" fill="#c0c0c0"/>
<rect x="705" y="431" width="3" height="9" fill="#c0c0c0"/>
<rect x="713" y="428" width="3" height="12" fill="#c0c0c0"/>
<rect x="721" y="427" width="3" height="13" fill="#c0c0c0"/>
<rect x="729" y="424" width="3" height="16" fill="#c0c0c0"/>
<rect x="737" y="422" width="3" height="18" fill="#c0c0c0"/>
<rect x="745" y="419" width="3" height="21" fill="#c0c0c0"/>
<rect x="753" y="418" width="3" height="22" fill="#c0c0c0"/>
<rect x="761" y="418" width="3" height="22" fill="#c0c0c0"/>
<rect x="769" y="418" width="3" height="22" fill="#c0c0c0"/>
<rect x="777" y="415" width="3" height="25" fill="#c0c0c0"/>
<rect x="785" y="414" width="3" height="26" fill="#c0c0c0"/>
<rect x="793" y="414" width="3" height="26" fill="#c0c0c0"/>
<rect x="801" y="413" width="3" height="27" fill="#c0c0c0"/>
<rect x="809" y="411" width="3" height="29" fill="#c0c0c0"/>
<rect x="817" y="410" width="3" height="30" fill="#c0c0c0"/>
<rect x="825" y="409" width="3" height="31" fill="#c0c0c0"/>
<rect x="833" y="409" width="3" height="31" fill="#c0c0c0"/>
<rect x="841" y="411" width="3" height="29" fill="#c0c0c0"/>
<rect x="849" y="416" width="3" height="24" fill="#c0c0c0"/>
<rect x="857" y="420" width="3" height="20" fill="#c0c0c0"/>
<rect x="865" y="422" width="3" height="18" fill="#c0c0c0"/>
<rect x="873" y="423" width="3" height="17" fill="#c0c0c0"/>
<rect x="881" y="424" width="3" height="16" fill="#c0c0c0"/>
<rect x="889" y="423" width="3" height="17" fill="#c0c0c0"/>
<rect x="897" y="420" width="3" height="20" fill="#c0c0c0"/>
<rect x="905" y="420" width="3" height="20" fill="#c0c0c0"/>
<rect x="913" y="419" width="3" height="21" fill="#c0c0c0"/>
<rect x="1" y="404" width="1" height="70" fill="#000"/>
</g>
<path d="M830 412.5h34M822 413.5h8M864 413.5h6M814 414.5h8M870 414.5h6M808 415.5h6M876 415.5h4M804 416.5h4M880 416.5h6M798 417.5h6M886 417.5h6M790 418.5h8M892 418.5h4M784 419.5h6M896 419.5h6M780 420.5h4M902 420.5h8M150 421.5h16M776 421.5h4M910 421.5h5M142 422.5h8M166 422.5h8M772 422.5h4M136 423.5h6M174 423.5h6M766 423.5h6M132 424.5h4M180 424.5h4M760 424.5h6M128 425.5h4M184 425.5h4M756 425.5h4M124 426.5h4M188 426.5h4M752 426.5h4M2 427.5h2M118 427.5h6M192 427.5h4M350 427.5h16M748 427.5h4M4 428.5h4M113 428.5h5M196 428.5h3M334 428.5h16M366 428.5h16M744 428.5h4M8 429.5h4M110 429.5h3M199 429.5h4M326 429.5h8M382 429.5h6M740 429.5h4M12 430.5h4M108 430.5h2M203 430.5h5M320 430.5h6M388 430.5h4M736 430.5h4M16 431.5h14M104 431.5h4M208 431.5h4M316 431.5h4M392 431.5h5M732 431.5h4M30 432.5h16M100 432.5h4M212 432.5h2M310 432.5h6M397 432.5h6M729 432.5h3M46 433.5h24M86 433.5h14M214 433.5h3M302 433.5h8M403 433.5h5M726 433.5h3M70 434.5h16M217 434.5h5M294 434.5h8M408 434.5h4M724 434.5h2M222 435.5h8M286 435.5h8M412 435.5h4M720 435.5h4M230 436.5h8M278 436.5h8M416 436.5h6M716 436.5h4M238 437.5h40M422 437.5h6M712 437.5h4M428 438.5h4M708 438.5h4M432 439.5h4M704 439.5h4M436 440.5h4M700 440.5h4M440 441.5h4M696 441.5h4M444 442.5h4M692 442.5h4M448 443.5h4M689 443.5h3M452 444.5h4M686 444.5h3M456 445.5h4M684 445.5h2M460 446.5h2M680 446.5h4M462 447.5h3M676 447.5h4M465 448.5h3M672 448.5h4M468 449.5h4M668 449.5h4M472 450.5h4M664 450.5h4M476 451.5h2M660 451.5h4M478 452.5h3M656 452.5h4M481 453.5h3M652 453.5h4M484 454.5h4M646 454.5h6M488 455.5h4M641 455.5h5M492 456.5h4M638 456.5h3M496 457.5h4M636 457.5h2M500 458.5h2M630 458.5h6M502 459.5h3M622 459.5h8M505 460.5h3M616 460.5h6M508 461.5h4M612 461.5h4M512 462.5h6M608 462.5h4M518 463.5h6M603 463.5h5M524 464.5h4M597 464.5h6M528 465.5h6M590 465.5h7M534 466.5h8M574 466.5h16M542 467.5h32" fill="none" stroke="#ff0000" stroke-width="1" shape-rendering="crispEdges"/>
<g shape-rendering="crispEdges">
<line x1="3" y1="497.5" x2="1164" y2="497.5" stroke="#c0c0c0" stroke-width="1" stroke-dasharray="3,3"/>
<line x1="3" y1="525.5" x2="1164" y2="525.5" stroke="#c0c0c0" stroke-width="1" stroke-dasharray="3,3"/>
</g>
<path d="M98 494.5h10M97 495.5h1M108 495.5h4M778 495.5h1M96 496.5h1M112 496.5h3M776 496.5h2M779 496.5h1M814 496.5h14M94 497.5h2M115 497.5h1M744 497.5h4M775 497.5h1M780 497.5h2M806 497.5h8M828 497.5h4M93 498.5h1M115 498.5h1M729 498.5h5M740 498.5h4M748 498.5h2M774 498.5h1M782 498.5h1M800 498.5h6M832 498.5h3M92 499.5h1M116 499.5h1M674 499.5h1M726 499.5h3M734 499.5h6M750 499.5h3M772 499.5h2M783 499.5h1M796 499.5h4M835 499.5h1M91 500.5h1M116 500.5h1M673 500.5h1M675 500.5h2M724 500.5h2M753 500.5h5M771 500.5h1M784 500.5h2M790 500.5h6M836 500.5h2M897 500.5h3M88 501.5h3M117 501.5h1M318 501.5h6M672 501.5h1M677 501.5h2M712 501.5h12M758 501.5h13M786 501.5h4M838 501.5h1M895 501.5h2M900 501.5h2M84 502.5h4M118 502.5h1M312 502.5h6M324 502.5h2M670 502.5h2M679 502.5h2M708 502.5h4M839 502.5h1M893 502.5h2M902 502.5h3M81 503.5h3M118 503.5h1M308 503.5h4M326 503.5h3M669 503.5h1M681 503.5h5M705 503.5h3M840 503.5h2M891 503.5h2M905 503.5h10M79 504.5h2M119 504.5h1M302 504.5h6M329 504.5h2M668 504.5h1M686 504.5h6M703 504.5h2M842 504.5h1M889 504.5h2M77 505.5h2M120 505.5h1M297 505.5h5M331 505.5h1M667 505.5h1M692 505.5h2M701 505.5h2M843 505.5h1M887 505.5h2M75 506.5h2M120 506.5h1M232 506.5h4M294 506.5h3M332 506.5h1M377 506.5h2M666 506.5h1M694 506.5h3M699 506.5h2M844 506.5h1M885 506.5h2M14 507.5h13M73 507.5h2M121 507.5h1M146 507.5h1M228 507.5h4M236 507.5h4M254 507.5h6M272 507.5h3M292 507.5h2M333 507.5h1M375 507.5h2M379 507.5h2M664 507.5h2M697 507.5h2M845 507.5h1M872 507.5h6M883 507.5h2M9 508.5h5M27 508.5h2M71 508.5h2M121 508.5h1M144 508.5h2M147 508.5h2M226 508.5h2M240 508.5h14M260 508.5h4M268 508.5h4M275 508.5h2M289 508.5h3M334 508.5h1M373 508.5h2M381 508.5h1M663 508.5h1M846 508.5h1M868 508.5h4M878 508.5h5M6 509.5h3M29 509.5h2M69 509.5h2M122 509.5h2M142 509.5h2M149 509.5h2M225 509.5h1M264 509.5h4M277 509.5h1M287 509.5h2M335 509.5h1M371 509.5h2M382 509.5h2M630 509.5h8M662 509.5h1M846 509.5h1M865 509.5h3M4 510.5h2M31 510.5h2M67 510.5h2M124 510.5h2M141 510.5h1M151 510.5h2M224 510.5h1M278 510.5h2M285 510.5h2M336 510.5h1M369 510.5h2M384 510.5h2M626 510.5h4M638 510.5h8M660 510.5h2M847 510.5h1M863 510.5h2M2 511.5h2M33 511.5h5M44 511.5h23M126 511.5h3M139 511.5h2M153 511.5h34M222 511.5h2M280 511.5h2M283 511.5h2M337 511.5h1M367 511.5h2M386 511.5h2M625 511.5h1M646 511.5h8M659 511.5h1M848 511.5h1M861 511.5h2M38 512.5h6M129 512.5h10M187 512.5h2M221 512.5h1M282 512.5h1M338 512.5h12M365 512.5h2M388 512.5h2M624 512.5h1M654 512.5h5M849 512.5h1M859 512.5h2M189 513.5h2M220 513.5h1M350 513.5h8M363 513.5h2M390 513.5h3M623 513.5h1M850 513.5h9M191 514.5h2M219 514.5h1M358 514.5h5M393 514.5h11M622 514.5h1M193 515.5h3M214 515.5h5M404 515.5h4M609 515.5h3M621 515.5h1M196 516.5h4M206 516.5h8M408 516.5h6M422 516.5h6M607 516.5h2M612 516.5h2M620 516.5h1M200 517.5h6M414 517.5h8M428 517.5h4M605 517.5h2M614 517.5h3M619 517.5h1M432 518.5h3M590 518.5h8M603 518.5h2M617 518.5h2M435 519.5h2M585 519.5h5M598 519.5h5M437 520.5h1M558 520.5h8M583 520.5h2M438 521.5h2M448 521.5h20M550 521.5h8M566 521.5h6M581 521.5h2M440 522.5h2M444 522.5h4M468 522.5h4M542 522.5h8M572 522.5h4M579 522.5h2M442 523.5h2M472 523.5h4M530 523.5h12M576 523.5h3M476 524.5h2M528 524.5h2M478 525.5h3M486 525.5h8M526 525.5h2M481 526.5h5M494 526.5h16M525 526.5h1M510 527.5h8M523 527.5h2M518 528.5h5" fill="none" stroke="#1e90ff" stroke-width="1" shape-rendering="crispEdges"/>
<g shape-rendering="crispEdges">
<rect x="1165" y="36" width="2" height="1" fill="#000"/>
<rect x="1165" y="69" width="2" height="1" fill="#000"/>
<rect x="1165" y="135" width="2" height="1" fill="#000"/>
<rect x="1165" y="168" width="2" height="1" fill="#000"/>
<rect x="1165" y="201" width="2" height="1" fill="#000"/>
<rect x="1165" y="234" width="2" height="1" fill="#000"/>
<rect x="1165" y="267" width="2" height="1" fill="#000"/>
<rect x="1165" y="300" width="2" height="1" fill="#000"/>
<rect x="1165" y="333" width="2" height="1" fill="#000"/>
<rect x="1165" y="366" width="2" height="1" fill="#000"/>
<rect x="1165" y="399" width="2" height="1" fill="#000"/>
<rect x="1165" y="102" width="2" height="1" fill="#000"/>
<rect x="1165" y="440" width="1" height="1" fill="#000"/>
<rect x="1165" y="497" width="1" height="1" fill="#000"/>
<rect x="1165" y="525" width="1" height="1" fill="#000"/>
</g>
<g font-family="Liberation Sans, sans-serif">
<text x="1169.6" y="39.7" font-size="9.5" fill="#000" stroke="#000" stroke-width="0.1" textLength="33.2" lengthAdjust="spacing" text-anchor="start">1.29585</text>
<text x="1169.6" y="72.7" font-size="9.5" fill="#000" stroke="#000" stroke-width="0.1" textLength="33.2" lengthAdjust="spacing" text-anchor="start">1.28970</text>
<text x="1169.6" y="138.8" font-size="9.5" fill="#000" stroke="#000" stroke-width="0.1" textLength="33.2" lengthAdjust="spacing" text-anchor="start">1.27725</text>
<text x="1169.6" y="171.8" font-size="9.5" fill="#000" stroke="#000" stroke-width="0.1" textLength="33.2" lengthAdjust="spacing" text-anchor="start">1.27095</text>
<text x="1169.6" y="204.9" font-size="9.5" fill="#000" stroke="#000" stroke-width="0.1" textLength="33.2" lengthAdjust="spacing" text-anchor="start">1.26480</text>
<text x="1169.6" y="237.9" font-size="9.5" fill="#000" stroke="#000" stroke-width="0.1" textLength="33.2" lengthAdjust="spacing" text-anchor="start">1.25850</text>
<text x="1169.6" y="271.0" font-size="9.5" fill="#000" stroke="#000" stroke-width="0.1" textLength="33.2" lengthAdjust="spacing" text-anchor="start">1.25235</text>
<text x="1169.6" y="304.0" font-size="9.5" fill="#000" stroke="#000" stroke-width="0.1" textLength="33.2" lengthAdjust="spacing" text-anchor="start">1.24605</text>
<text x="1169.6" y="337.1" font-size="9.5" fill="#000" stroke="#000" stroke-width="0.1" textLength="33.2" lengthAdjust="spacing" text-anchor="start">1.23990</text>
<text x="1169.6" y="370.1" font-size="9.5" fill="#000" stroke="#000" stroke-width="0.1" textLength="33.2" lengthAdjust="spacing" text-anchor="start">1.23375</text>
<text x="1169.6" y="403.1" font-size="9.5" fill="#000" stroke="#000" stroke-width="0.1" textLength="33.2" lengthAdjust="spacing" text-anchor="start">1.22745</text>
<rect x="1166" y="69" width="39" height="11" fill="#ff0000" shape-rendering="crispEdges"/>
<text x="1169.6" y="78" font-size="9.5" fill="#fff" stroke="#fff" stroke-width="0.1" textLength="33.2" lengthAdjust="spacing" text-anchor="start">1.28851</text>
<rect x="1166" y="95" width="39" height="11" fill="#000" shape-rendering="crispEdges"/>
<text x="1169.6" y="104" font-size="9.5" fill="#fff" stroke="#fff" stroke-width="0.1" textLength="33.2" lengthAdjust="spacing" text-anchor="start">1.28382</text>
<rect x="1166" y="140" width="39" height="11" fill="#ff0000" shape-rendering="crispEdges"/>
<text x="1169.6" y="149" font-size="9.5" fill="#fff" stroke="#fff" stroke-width="0.1" textLength="33.2" lengthAdjust="spacing" text-anchor="start">1.27515</text>
<rect x="1166" y="210" width="39" height="11" fill="#00ff00" shape-rendering="crispEdges"/>
<text x="1169.6" y="219" font-size="9.5" fill="#fff" stroke="#fff" stroke-width="0.1" textLength="33.2" lengthAdjust="spacing" text-anchor="start">1.26199</text>
<rect x="1166" y="274" width="39" height="11" fill="#0000ff" shape-rendering="crispEdges"/>
<text x="1169.6" y="283" font-size="9.5" fill="#fff" stroke="#fff" stroke-width="0.1" textLength="33.2" lengthAdjust="spacing" text-anchor="start">1.24995</text>
<rect x="1166" y="337" width="39" height="11" fill="#0000ff" shape-rendering="crispEdges"/>
<text x="1169.6" y="346" font-size="9.5" fill="#fff" stroke="#fff" stroke-width="0.1" textLength="33.2" lengthAdjust="spacing" text-anchor="start">1.23810</text>
<text x="1167.4" y="414.7" font-size="9.5" fill="#000" stroke="#000" stroke-width="0.1" textLength="41.5" lengthAdjust="spacing" text-anchor="start">0.009345</text>
<text x="1167.4" y="443.9" font-size="9.5" fill="#000" stroke="#000" stroke-width="0.1" textLength="18.2" lengthAdjust="spacing" text-anchor="start">0.00</text>
<text x="1167.6" y="470.6" font-size="9.5" fill="#000" stroke="#000" stroke-width="0.1" textLength="43.4" lengthAdjust="spacing" text-anchor="start">-0.008902</text>
<text x="1167.6" y="486.2" font-size="9.5" fill="#000" stroke="#000" stroke-width="0.1" textLength="15.6" lengthAdjust="spacing" text-anchor="start">100</text>
<text x="1167.3" y="501.3" font-size="9.5" fill="#000" stroke="#000" stroke-width="0.1" textLength="10.4" lengthAdjust="spacing" text-anchor="start">70</text>
<text x="1167.3" y="529.1" font-size="9.5" fill="#000" stroke="#000" stroke-width="0.1" textLength="10.4" lengthAdjust="spacing" text-anchor="start">30</text>
<text x="1167.9" y="544.0" font-size="9.5" fill="#000" stroke="#000" stroke-width="0.1" text-anchor="start">0</text>
<path d="M5,30 L12,30 L8.5,34 Z" fill="#000"/>
<text x="17.0" y="35.1" font-size="9.5" fill="#000" stroke="#000" stroke-width="0.1" textLength="69.4" lengthAdjust="spacing" text-anchor="start">USDCAD-,Daily</text>
<text x="91.8" y="35.1" font-size="9.5" fill="#000" stroke="#000" stroke-width="0.1" textLength="33.2" lengthAdjust="spacing" text-anchor="start">1.28361</text>
<text x="127.6" y="35.1" font-size="9.5" fill="#000" stroke="#000" stroke-width="0.1" textLength="33.2" lengthAdjust="spacing" text-anchor="start">1.28397</text>
<text x="163.39999999999998" y="35.1" font-size="9.5" fill="#000" stroke="#000" stroke-width="0.1" textLength="33.2" lengthAdjust="spacing" text-anchor="start">1.28333</text>
<text x="199.2" y="35.1" font-size="9.5" fill="#000" stroke="#000" stroke-width="0.1" textLength="33.2" lengthAdjust="spacing" text-anchor="start">1.28382</text>
<text x="5.7" y="417.4" font-size="9.5" fill="#000" stroke="#000" stroke-width="0.1" textLength="149.2" lengthAdjust="spacing" text-anchor="start">MACD(12,26,9) 0.005684 0.005162</text>
<text x="5.7" y="488.1" font-size="9.5" fill="#000" stroke="#000" stroke-width="0.1" textLength="68.6" lengthAdjust="spacing" text-anchor="start">RSI(14) 62.7372</text>
<rect x="2" y="548" width="1" height="3" fill="#000" shape-rendering="crispEdges"/>
<text x="1.0" y="560.0" font-size="9.5" fill="#000" stroke="#000" stroke-width="0.1" textLength="47.2" lengthAdjust="spacing" text-anchor="start">5 Aug 2021</text>
<rect x="66" y="548" width="1" height="3" fill="#000" shape-rendering="crispEdges"/>
<text x="64.6" y="560.0" font-size="9.5" fill="#000" stroke="#000" stroke-width="0.1" textLength="52.2" lengthAdjust="spacing" text-anchor="start">15 Aug 2021</text>
<rect x="130" y="548" width="1" height="3" fill="#000" shape-rendering="crispEdges"/>
<text x="129.0" y="560.0" font-size="9.5" fill="#000" stroke="#000" stroke-width="0.1" textLength="52.2" lengthAdjust="spacing" text-anchor="start">24 Aug 2021</text>
<rect x="194" y="548" width="1" height="3" fill="#000" shape-rendering="crispEdges"/>
<text x="193.0" y="560.0" font-size="9.5" fill="#000" stroke="#000" stroke-width="0.1" textLength="47.2" lengthAdjust="spacing" text-anchor="start">2 Sep 2021</text>
<rect x="258" y="548" width="1" height="3" fill="#000" shape-rendering="crispEdges"/>
<text x="256.6" y="560.0" font-size="9.5" fill="#000" stroke="#000" stroke-width="0.1" textLength="52.2" lengthAdjust="spacing" text-anchor="start">12 Sep 2021</text>
<rect x="322" y="548" width="1" height="3" fill="#000" shape-rendering="crispEdges"/>
<text x="321.0" y="560.0" font-size="9.5" fill="#000" stroke="#000" stroke-width="0.1" textLength="52.2" lengthAdjust="spacing" text-anchor="start">21 Sep 2021</text>
<rect x="386" y="548" width="1" height="3" fill="#000" shape-rendering="crispEdges"/>
<text x="385.0" y="560.0" font-size="9.5" fill="#000" stroke="#000" stroke-width="0.1" textLength="52.2" lengthAdjust="spacing" text-anchor="start">30 Sep 2021</text>
<rect x="450" y="548" width="1" height="3" fill="#000" shape-rendering="crispEdges"/>
<text x="448.6" y="560.0" font-size="9.5" fill="#000" stroke="#000" stroke-width="0.1" textLength="52.2" lengthAdjust="spacing" text-anchor="start">10 Oct 2021</text>
<rect x="514" y="548" width="1" height="3" fill="#000" shape-rendering="crispEdges"/>
<text x="512.6" y="560.0" font-size="9.5" fill="#000" stroke="#000" stroke-width="0.1" textLength="52.2" lengthAdjust="spacing" text-anchor="start">19 Oct 2021</text>
<rect x="578" y="548" width="1" height="3" fill="#000" shape-rendering="crispEdges"/>
<text x="577.0" y="560.0" font-size="9.5" fill="#000" stroke="#000" stroke-width="0.1" textLength="52.2" lengthAdjust="spacing" text-anchor="start">28 Oct 2021</text>
<rect x="642" y="548" width="1" height="3" fill="#000" shape-rendering="crispEdges"/>
<text x="641.0" y="560.0" font-size="9.5" fill="#000" stroke="#000" stroke-width="0.1" textLength="47.2" lengthAdjust="spacing" text-anchor="start">7 Nov 2021</text>
<rect x="706" y="548" width="1" height="3" fill="#000" shape-rendering="crispEdges"/>
<text x="704.6" y="560.0" font-size="9.5" fill="#000" stroke="#000" stroke-width="0.1" textLength="52.2" lengthAdjust="spacing" text-anchor="start">16 Nov 2021</text>
<rect x="770" y="548" width="1" height="3" fill="#000" shape-rendering="crispEdges"/>
<text x="769.0" y="560.0" font-size="9.5" fill="#000" stroke="#000" stroke-width="0.1" textLength="52.2" lengthAdjust="spacing" text-anchor="start">25 Nov 2021</text>
<rect x="834" y="548" width="1" height="3" fill="#000" shape-rendering="crispEdges"/>
<text x="833.0" y="560.0" font-size="9.5" fill="#000" stroke="#000" stroke-width="0.1" textLength="47.2" lengthAdjust="spacing" text-anchor="start">5 Dec 2021</text>
<rect x="898" y="548" width="1" height="3" fill="#000" shape-rendering="crispEdges"/>
<text x="896.6" y="560.0" font-size="9.5" fill="#000" stroke="#000" stroke-width="0.1" textLength="52.2" lengthAdjust="spacing" text-anchor="start">14 Dec 2021</text>
</g>
<g shape-rendering="crispEdges">
<rect x="0" y="568" width="1205" height="1" fill="#e3e3e3"/>
<rect x="0" y="569" width="1205" height="1" fill="#f4f4f4"/>
<rect x="0" y="570" width="1205" height="1" fill="#000"/>
<rect x="0" y="571" width="1205" height="19" fill="#f0f0f0"/>
<rect x="0" y="590" width="1205" height="3" fill="#ffffff"/>
<rect x="0" y="593" width="1205" height="1" fill="#dcdcdc"/>
<rect x="0" y="594" width="1205" height="1" fill="#a8a8a8"/>
<rect x="0" y="595" width="1205" height="1" fill="#f0f0f0"/>
<rect x="416" y="569" width="106" height="19" fill="#ffffff"/>
<rect x="415" y="570" width="1" height="19" fill="#000"/>
<rect x="522" y="570" width="1" height="19" fill="#000"/>
<rect x="415" y="588" width="108" height="1" fill="#000"/>
<rect x="416" y="569" width="106" height="2" fill="#ffffff"/>
<rect x="103" y="573" width="1" height="14" fill="#6e6e6e"/>
<rect x="211" y="573" width="1" height="14" fill="#6e6e6e"/>
<rect x="319" y="573" width="1" height="14" fill="#6e6e6e"/>
<rect x="635" y="573" width="1" height="14" fill="#6e6e6e"/>
<rect x="731" y="573" width="1" height="14" fill="#6e6e6e"/>
<rect x="811" y="573" width="1" height="14" fill="#6e6e6e"/>
<rect x="899" y="573" width="1" height="14" fill="#6e6e6e"/>
<rect x="984" y="573" width="1" height="14" fill="#6e6e6e"/>
</g>
<g font-family="Liberation Sans, sans-serif">
<text x="13.5" y="584.6" font-size="12.4" fill="#7a7a7a" stroke="#7a7a7a" stroke-width="0" textLength="78.6" lengthAdjust="spacing" text-anchor="start">USDX,Weekly</text>
<text x="113.9" y="584.6" font-size="12.4" fill="#7a7a7a" stroke="#7a7a7a" stroke-width="0" textLength="85.4" lengthAdjust="spacing" text-anchor="start">EURUSD-,Daily</text>
<text x="221.2" y="584.6" font-size="12.4" fill="#7a7a7a" stroke="#7a7a7a" stroke-width="0" textLength="86.8" lengthAdjust="spacing" text-anchor="start">AUDUSD-,Daily</text>
<text x="330.9" y="584.6" font-size="12.4" fill="#7a7a7a" stroke="#7a7a7a" stroke-width="0" textLength="72.4" lengthAdjust="spacing" text-anchor="start">USDCHF-,H4</text>
<text x="425.4" y="584.6" font-size="12.4" fill="#000" stroke="#000" stroke-width="0" textLength="86.4" lengthAdjust="spacing" text-anchor="start">USDCAD-,Daily</text>
<text x="534.6" y="584.6" font-size="12.4" fill="#7a7a7a" stroke="#7a7a7a" stroke-width="0" textLength="87.8" lengthAdjust="spacing" text-anchor="start">USDCNH-,Daily</text>
<text x="645.4" y="584.6" font-size="12.4" fill="#7a7a7a" stroke="#7a7a7a" stroke-width="0" textLength="74.0" lengthAdjust="spacing" text-anchor="start">XAUUSD-,H4</text>
<text x="741.3" y="584.6" font-size="12.4" fill="#7a7a7a" stroke="#7a7a7a" stroke-width="0" textLength="58.2" lengthAdjust="spacing" text-anchor="start">UKOil-,H4</text>
<text x="822.5" y="584.6" font-size="12.4" fill="#7a7a7a" stroke="#7a7a7a" stroke-width="0" textLength="64.0" lengthAdjust="spacing" text-anchor="start">DJ30-,Daily</text>
<text x="909.9" y="584.6" font-size="12.4" fill="#7a7a7a" stroke="#7a7a7a" stroke-width="0" textLength="61.4" lengthAdjust="spacing" text-anchor="start">UK100-,H1</text>
</g>
<path d="M1183,576 L1183,583 L1179.5,579.5 Z" fill="#8a8a8a"/><path d="M1199,576 L1199,583 L1202.5,579.5 Z" fill="#8a8a8a"/></svg>
</body></html>
